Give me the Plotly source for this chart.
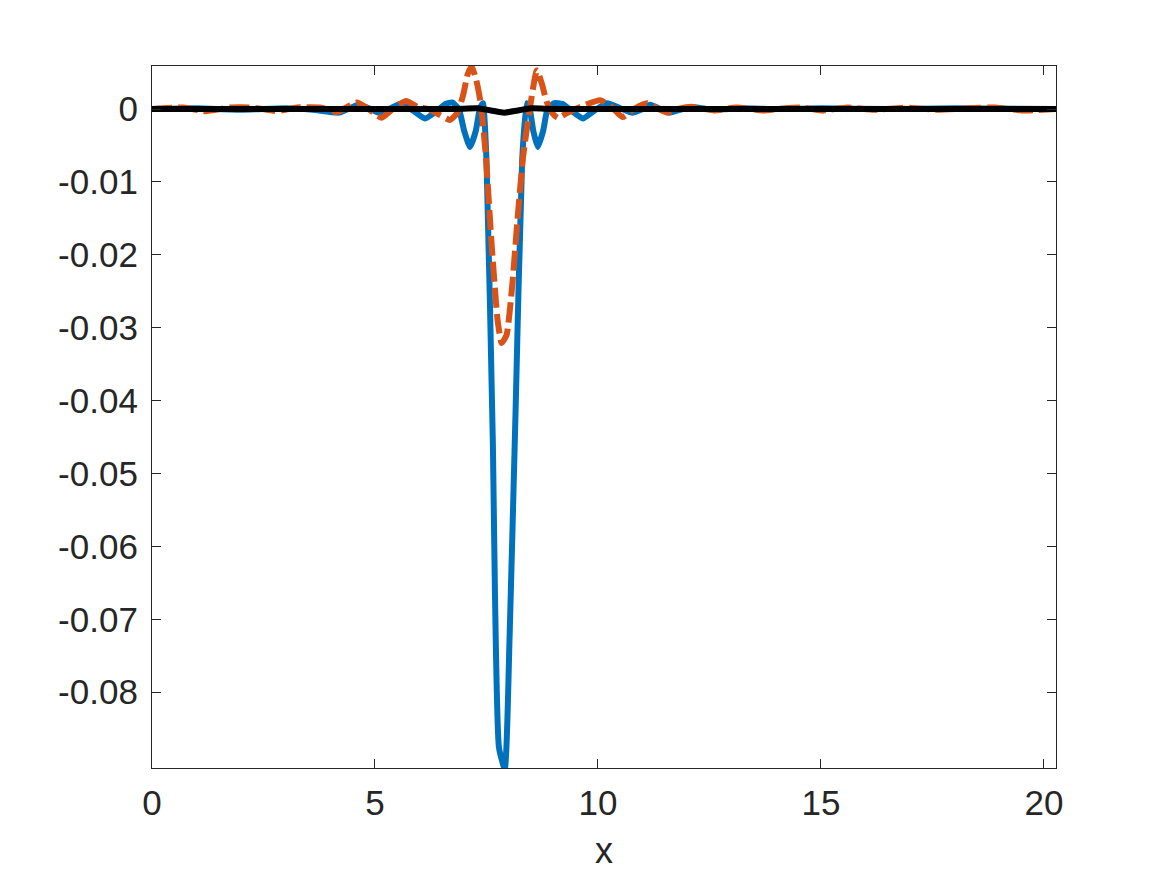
import plotly.graph_objects as go

# ---- data ----
blue_x = [0.0, 1.0, 2.0, 3.0, 3.6, 4.2, 4.63, 4.9, 5.07, 5.35, 5.6, 5.85, 6.12, 6.4, 6.58, 6.73,
          6.88, 7.0, 7.13, 7.26, 7.35, 7.42, 7.50, 7.64, 7.78, 7.91, 8.02, 8.15, 8.30, 8.40,
          8.47, 8.55, 8.65, 8.77, 8.87, 9.02, 9.2, 9.42, 9.66, 9.9, 10.2, 10.5, 10.76, 11.0,
          11.17, 11.4, 11.6, 11.9, 12.2, 12.6, 13.2, 14.0, 15.0, 16.5, 18.0, 20.27]
blue_y = [0.0, 0.0001, -0.0001, 0.0001, -0.0001, -0.0005, 0.0006, 0.0, -0.0005, 0.0001, 0.0008,
          -0.0002, -0.0013, -0.0002, 0.0007, 0.0009, 0.0, -0.0030, -0.0052, -0.0030, 0.0,
          0.0008, -0.0070, -0.0450, -0.0876, -0.0905, -0.0720, -0.0420, -0.0070, 0.0008,
          0.0, -0.0030, -0.0052, -0.0030, 0.0, 0.0008, 0.0007, -0.0003, -0.0013, -0.0003,
          0.0008, 0.0001, -0.0005, 0.0, 0.0006, 0.0, -0.0005, 0.0, 0.0002, -0.0001, 0.0001,
          0.0, 0.0001, 0.0, 0.0001, 0.0]

orange_x = [0.0, 0.7, 1.2, 1.75, 2.26, 2.8, 3.25, 3.77, 4.15, 4.6, 4.85, 5.15, 5.4, 5.7, 5.95,
            6.2, 6.45, 6.68, 6.85, 6.98, 7.08, 7.17, 7.27, 7.37, 7.48, 7.62, 7.75, 7.84, 7.95,
            8.08, 8.20, 8.32, 8.47, 8.63, 8.74, 8.85, 8.98, 9.1, 9.35, 9.65, 10.05, 10.3,
            10.55, 10.8, 11.1, 11.35, 11.55, 11.8, 12.1, 12.4, 12.6, 13.1, 13.7, 14.2, 14.6,
            15.0, 15.6, 16.2, 16.9, 17.6, 18.3, 18.9, 19.5, 20.27]
orange_y = [0.0, 0.0002, -0.0003, 0.0002, 0.0002, -0.0003, 0.0002, 0.0002, -0.0004, 0.0009,
            0.0, -0.0012, 0.0, 0.0011, 0.0003, 0.0, -0.0008, -0.0015, -0.0005, 0.0020, 0.0048,
            0.0058, 0.0040, 0.0008, -0.0060, -0.0190, -0.0290, -0.0321, -0.0310, -0.0240,
            -0.0148, -0.0066, 0.0, 0.0053, 0.0035, 0.0010, -0.0006, -0.0012, -0.0004, 0.0004,
            0.0012, 0.0003, -0.0011, 0.0, 0.0008, 0.0, -0.0005, 0.0, 0.0003, 0.0, -0.0002,
            0.0002, -0.0002, 0.0001, 0.0002, -0.0002, 0.0002, -0.0001, 0.0002, -0.0001, 0.0001,
            0.0002, -0.0002, 0.0]

black_x = [0.0, 6.5, 7.0, 7.3, 7.6, 7.9, 8.2, 8.5, 8.8, 9.3, 20.27]
black_y = [0.0, 0.0, 0.00005, 0.0001, -0.0002, -0.0005, -0.0002, 0.0001, 0.00005, 0.0, 0.0]

x_ticks = [0, 5, 10, 15, 20]
x_ticklabels = ["0", "5", "10", "15", "20"]
y_ticks = [0, -0.01, -0.02, -0.03, -0.04, -0.05, -0.06, -0.07, -0.08]
y_ticklabels = ["0", "-0.01", "-0.02", "-0.03", "-0.04", "-0.05", "-0.06", "-0.07", "-0.08"]

x_range = [0, 20.27]
y_range = [-0.0904, 0.0059]

FONT = "Liberation Sans, Arial, Helvetica, sans-serif"

# ---- figure ----
fig = go.Figure()
fig.add_trace(go.Scatter(x=blue_x, y=blue_y, mode="lines",
                         line=dict(color="#0072BD", width=6, shape="spline", smoothing=0.5),
                         showlegend=False))
fig.add_trace(go.Scatter(x=orange_x, y=orange_y, mode="lines",
                         line=dict(color="#D95319", width=6, dash="20px,6px",
                                   shape="spline", smoothing=0.5),
                         showlegend=False))
fig.add_trace(go.Scatter(x=black_x, y=black_y, mode="lines",
                         line=dict(color="#000000", width=6, shape="spline", smoothing=0.6),
                         showlegend=False))

axis_common = dict(showline=True, linecolor="#262626", linewidth=1.2, mirror="ticks",
                   ticks="inside", ticklen=9, tickcolor="#262626", tickwidth=1.2,
                   showgrid=False, zeroline=False,
                   tickfont=dict(family=FONT, size=35, color="#262626"))

fig.update_layout(
    width=1167, height=875,
    margin=dict(l=144, r=119, t=58, b=115),
    paper_bgcolor="white", plot_bgcolor="white",
    xaxis=dict(range=x_range, tickvals=x_ticks, ticktext=x_ticklabels,
               ticklabelstandoff=4,
               title=dict(text="x", font=dict(family=FONT, size=36, color="#262626"),
                          standoff=16),
               **axis_common),
    yaxis=dict(range=y_range, tickvals=y_ticks, ticktext=y_ticklabels,
               ticklabelstandoff=6, **axis_common),
)

fig.write_html("out.html")
